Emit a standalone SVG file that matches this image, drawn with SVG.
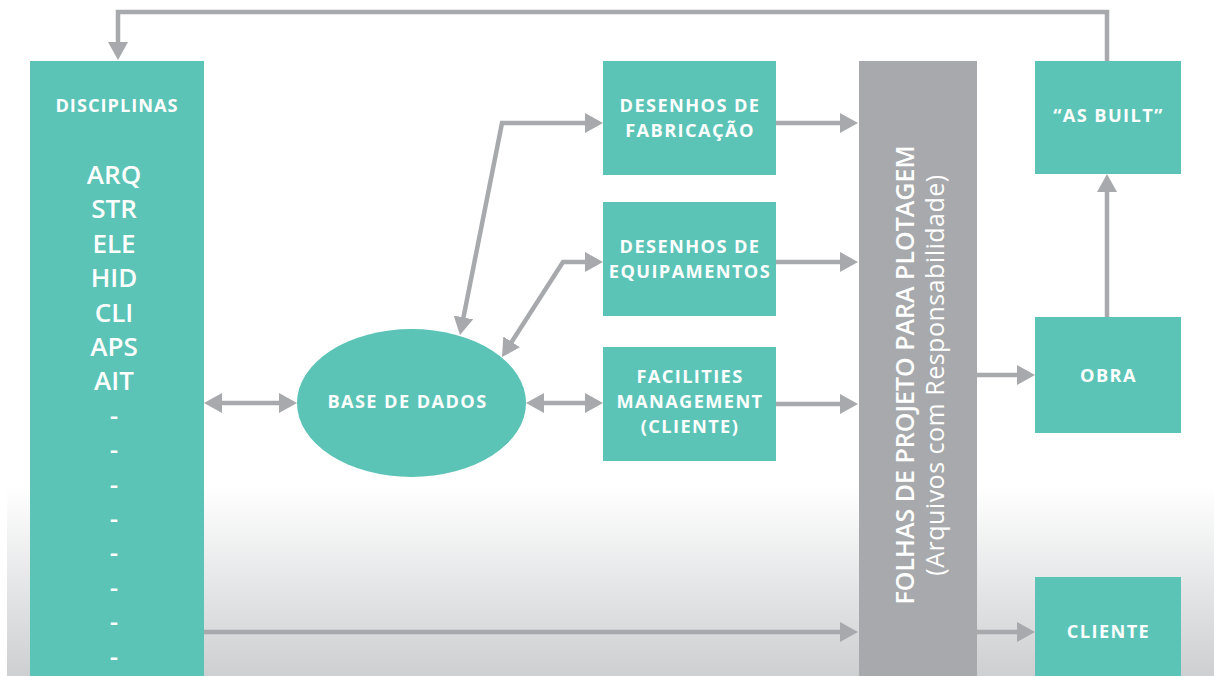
<svg xmlns="http://www.w3.org/2000/svg" width="1214" height="676" viewBox="0 0 1214 676">
  <defs>
    <linearGradient id="bg" x1="0" y1="0" x2="0" y2="1">
      <stop offset="0" stop-color="#ffffff"/>
      <stop offset="1" stop-color="#cdcfd1"/>
    </linearGradient>
    <marker id="ah" viewBox="0 0 18 20" refX="8" refY="10" markerWidth="18" markerHeight="20" markerUnits="userSpaceOnUse" orient="auto-start-reverse">
      <path d="M0,0 L18,10 L0,20 Z" fill="#a7a9ac"/>
    </marker>
    <style>
      .box { fill: #5bc4b7; }
      .bar { fill: #a7a9ac; }
      .t { font-family: "Open Sans", "Noto Sans", "DejaVu Sans", sans-serif; font-weight: 600; fill: #ffffff; text-anchor: middle; }
      .s18 { font-size: 18.2px; font-weight: 700; letter-spacing: 1.4px; }
      .s25 { font-size: 26px; }
      .c { fill: none; stroke: #a7a9ac; stroke-width: 4.5; stroke-linejoin: miter; }
      .e { marker-end: url(#ah); }
      .b { marker-start: url(#ah); marker-end: url(#ah); }
    </style>
  </defs>

  <rect x="0" y="0" width="1214" height="676" fill="#ffffff"/>
  <rect x="7" y="487" width="1207" height="189" fill="url(#bg)"/>

  <g id="disciplinas">
    <rect class="box" x="30" y="61" width="174" height="615"/>
    <text class="t s18" x="117" y="111.5" style="letter-spacing:1px">DISCIPLINAS</text>
    <text class="t s25" x="114" y="184">ARQ<tspan x="114" dy="34.4">STR</tspan><tspan x="114" dy="34.4">ELE</tspan><tspan x="114" dy="34.4">HID</tspan><tspan x="114" dy="34.4">CLI</tspan><tspan x="114" dy="34.4">APS</tspan><tspan x="114" dy="34.4">AIT</tspan><tspan x="114" dy="34.4">-</tspan><tspan x="114" dy="34.4">-</tspan><tspan x="114" dy="34.4">-</tspan><tspan x="114" dy="34.4">-</tspan><tspan x="114" dy="34.4">-</tspan><tspan x="114" dy="34.4">-</tspan><tspan x="114" dy="34.4">-</tspan><tspan x="114" dy="34.4">-</tspan></text>
  </g>

  <g id="base-de-dados">
    <ellipse class="box" cx="411.5" cy="403" rx="114.5" ry="74"/>
    <text class="t s18" x="407.5" y="407.5">BASE DE DADOS</text>
  </g>

  <g id="desenhos-fabricacao">
    <rect class="box" x="603" y="61" width="173" height="114"/>
    <text class="t s18" x="690" y="111.5">DESENHOS DE<tspan x="690" dy="25">FABRICAÇÃO</tspan></text>
  </g>

  <g id="desenhos-equipamentos">
    <rect class="box" x="603" y="202" width="173" height="114"/>
    <text class="t s18" x="690" y="253">DESENHOS DE<tspan x="690" dy="25">EQUIPAMENTOS</tspan></text>
  </g>

  <g id="facilities">
    <rect class="box" x="603" y="347" width="173" height="114"/>
    <text class="t s18" x="690" y="383">FACILITIES<tspan x="690" dy="25">MANAGEMENT</tspan><tspan x="690" dy="25">(CLIENTE)</tspan></text>
  </g>

  <g id="folhas">
    <rect class="bar" x="859" y="61" width="118" height="615"/>
    <text class="t" font-size="25" transform="translate(914,375) rotate(-90)">FOLHAS DE PROJETO PARA PLOTAGEM</text>
    <text class="t" font-size="25" letter-spacing="0.5" style="font-weight:400" transform="translate(944,375) rotate(-90)">(Arquivos com Responsabilidade)</text>
  </g>

  <g id="as-built">
    <rect class="box" x="1035" y="61" width="146" height="113"/>
    <text class="t s18" x="1108.5" y="121.5">“AS BUILT”</text>
  </g>

  <g id="obra">
    <rect class="box" x="1035" y="317" width="146" height="116"/>
    <text class="t s18" x="1108.5" y="381.5">OBRA</text>
  </g>

  <g id="cliente">
    <rect class="box" x="1035" y="577" width="146" height="99"/>
    <text class="t s18" x="1108.5" y="638">CLIENTE</text>
  </g>

  <g id="connectors">
    <polyline class="c e" points="1107,61 1107,12 118,12 118,50"/>
    <line class="c b" x1="214" y1="403" x2="287" y2="403"/>
    <line class="c b" x1="536" y1="403" x2="593" y2="403"/>
    <polyline class="c b" points="461.9,325.2 502,123 593,123"/>
    <polyline class="c b" points="507.4,348.6 563,262 593,262"/>
    <line class="c e" x1="776" y1="123" x2="848" y2="123"/>
    <line class="c e" x1="776" y1="262" x2="848" y2="262"/>
    <line class="c e" x1="776" y1="404" x2="848" y2="404"/>
    <line class="c e" x1="204" y1="632" x2="848" y2="632"/>
    <line class="c e" x1="977" y1="375" x2="1025" y2="375"/>
    <line class="c e" x1="977" y1="632" x2="1025" y2="632"/>
    <line class="c e" x1="1107" y1="317" x2="1107" y2="184"/>
  </g>
</svg>
